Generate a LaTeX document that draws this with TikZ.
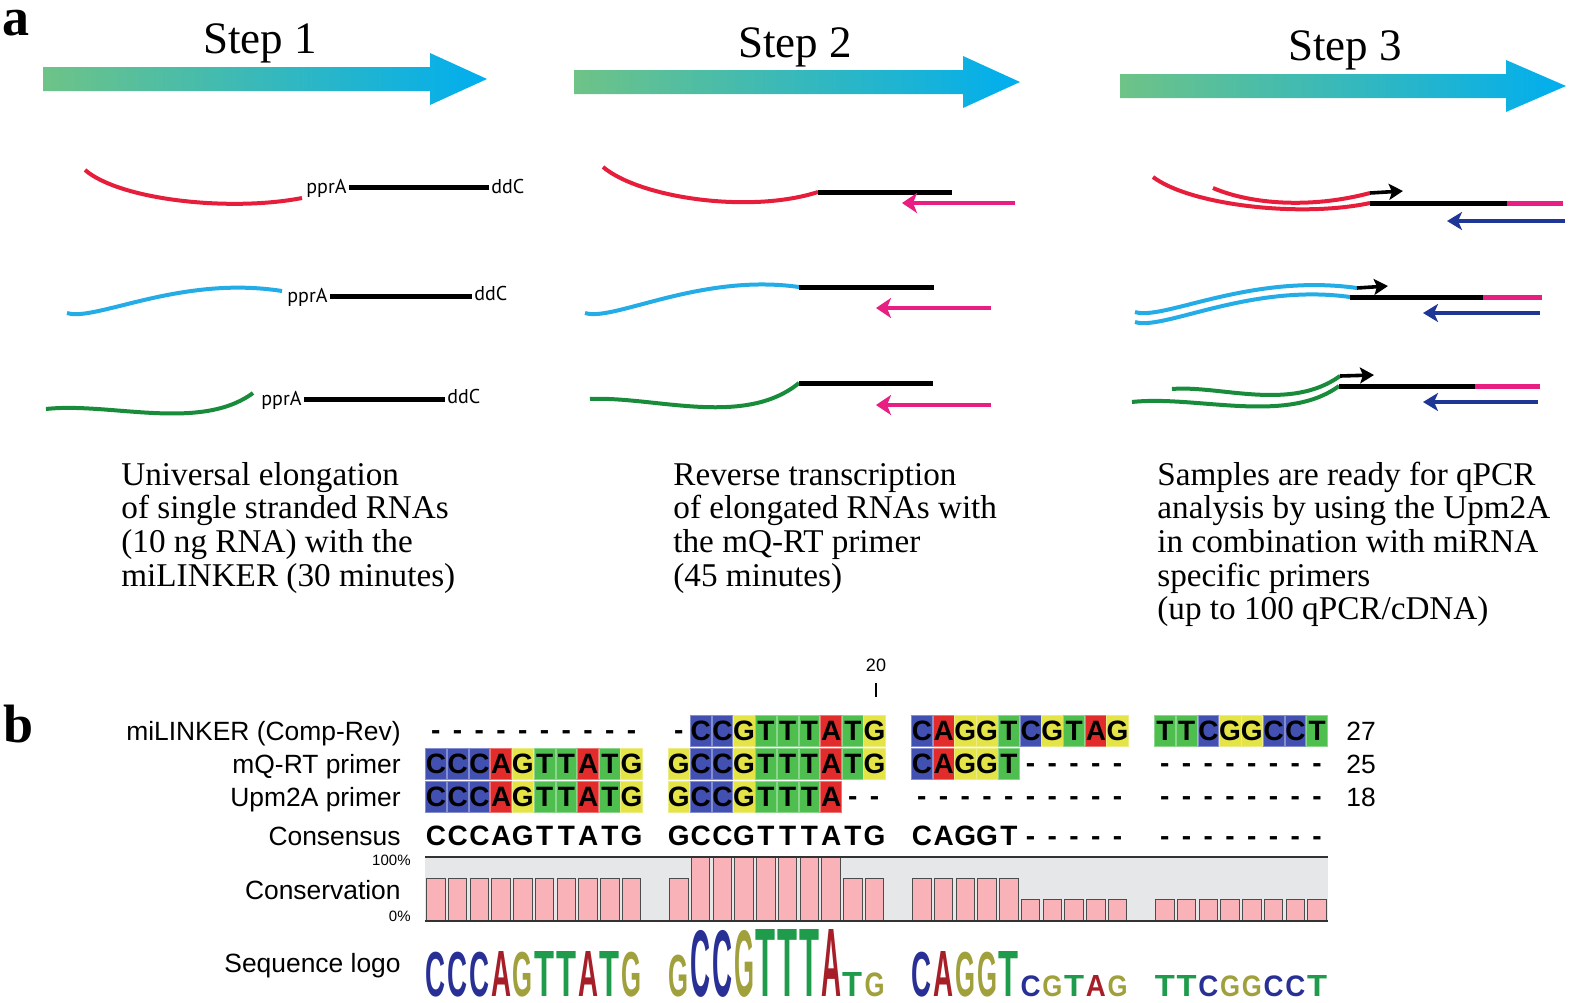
\documentclass[tikz,border=0pt]{standalone}
\usepackage{fontspec}
\setmainfont{Liberation Serif}
\setsansfont{Liberation Sans}
\newfontfamily\tagfont{PT Sans}
\usetikzlibrary{arrows.meta}

\definecolor{arrowgreen}{RGB}{110,195,135}
\definecolor{arrowmid}{RGB}{75,192,200}
\definecolor{arrowblue}{RGB}{0,174,239}
\definecolor{rnared}{RGB}{230,30,60}
\definecolor{rnablue}{RGB}{35,172,230}
\definecolor{rnagreen}{RGB}{25,140,60}
\definecolor{rtpink}{RGB}{233,30,130}
\definecolor{upmblue}{RGB}{30,55,150}
\definecolor{ntA}{RGB}{226,44,44}
\definecolor{ntC}{RGB}{66,80,178}
\definecolor{ntG}{RGB}{228,228,70}
\definecolor{ntT}{RGB}{78,190,78}
\definecolor{logoA}{RGB}{165,30,40}
\definecolor{logoC}{RGB}{40,48,150}
\definecolor{logoG}{RGB}{160,160,60}
\definecolor{logoT}{RGB}{30,155,75}
\definecolor{consbg}{RGB}{230,231,232}
\definecolor{barpink}{RGB}{249,178,184}

\tikzset{
  panel/.style={font=\fontsize{27}{27}\selectfont\bfseries, inner sep=0},
  steplbl/.style={font=\fontsize{22.5}{22.5}\selectfont, inner sep=0},
  desc/.style={font=\fontsize{16.6}{16.85}\selectfont, inner sep=0},
  tag/.style={font=\tagfont\fontsize{10}{10}\selectfont, inner sep=1.2pt},
  strand/.style={line width=2pt},
  linker/.style={line width=2.5pt},
  rtarrow/.style={line width=2pt, rtpink, -{Stealth[length=7.5pt,width=10pt,inset=2pt]}},
  upmarrow/.style={line width=2.2pt, upmblue, -{Stealth[length=7.5pt,width=9pt,inset=2pt]}},
  extarrow/.style={line width=1.8pt, -{Stealth[length=7pt,width=8pt,inset=1.5pt]}},
  lbl/.style={font=\sffamily\fontsize{13.2}{13.2}\selectfont, inner sep=0},
  nt/.style={fill=nt#1, draw=nt#1!65!white, line width=0.4pt, minimum width=10.4pt,
    minimum height=15.4pt, inner sep=0, font=\sffamily\bfseries\fontsize{14}{14}\selectfont},
  gapdash/.style={inner sep=0, anchor=base, font=\sffamily\bfseries\fontsize{14}{14}\selectfont},
  cons/.style={inner sep=0, anchor=base, font=\sffamily\bfseries\fontsize{14}{14}\selectfont},
  consbar/.style={fill=barpink, draw=black!70, line width=0.5pt},
  logo/.style={inner sep=0, anchor=base},
  pct/.style={font=\sffamily\fontsize{7.5}{7.5}\selectfont, inner sep=0, anchor=base east}
}

% big shaded arrow: left x, head x, tip x, centre y
\newcommand{\steparrow}[4]{%
  \shade[left color=arrowgreen, middle color=arrowmid, right color=arrowblue]
    (#1,#4-12) -- (#2,#4-12) -- (#2,#4-26) -- (#3,#4) -- (#2,#4+26) -- (#2,#4+12) -- (#1,#4+12) -- cycle;}
% x of alignment column (0..37)
\newcommand{\setcolx}[1]{\pgfmathsetmacro\xc{425+int(#1/10)*243+(mod(#1,10)+0.5)*21.75}}
\def\gapmark{-}
\newcommand{\alnrow}[3]{%
  \foreach \nt [count=\i from 0] in {#3} {
    \setcolx{\i}
    \ifx\nt\gapmark
      \node[gapdash] (#2-\i) at (\xc,#1+8) {-};
    \else
      \node[nt=\nt] (#2-\i) at (\xc,#1) {\nt};
    \fi
  }}

\begin{document}
\begin{tikzpicture}[x=0.5pt,y=-0.5pt]
\useasboundingbox (0,0) rectangle (1575,1002);

% panel a
\node[panel, anchor=base west] (pa) at (2,35) {a};
\steparrow{43}{430}{487}{79}
\steparrow{574}{963}{1020}{82}
\steparrow{1120}{1506}{1566}{86}
\node[steplbl, anchor=base] (st1) at (260,53) {Step 1};
\node[steplbl, anchor=base] (st2) at (795,57) {Step 2};
\node[steplbl, anchor=base] (st3) at (1345,60) {Step 3};

% Step 1
\draw[strand, rnared] (85,170) .. controls (120,200) and (230,212) .. (302,198);
\node[tag, anchor=base west] (pp1) at (303.6,193) {pprA};
\node[tag, anchor=base west] (dd1) at (488.6,193) {ddC};
\draw[linker] (pp1.east) -- (pp1.east -| dd1.west);
\draw[strand, rnablue] (67,313) .. controls (95,322) and (180,275) .. (282,291);
\node[tag, anchor=base west] (pp2) at (284.6,302) {pprA};
\node[tag, anchor=base west] (dd2) at (471.6,300) {ddC};
\draw[linker] (pp2.east) -- (pp2.east -| dd2.west);
\draw[strand, rnagreen] (46,409) .. controls (110,402) and (200,432) .. (253,393);
\node[tag, anchor=base west] (pp3) at (258.6,405) {pprA};
\node[tag, anchor=base west] (dd3) at (444.6,403) {ddC};
\draw[linker] (pp3.east) -- (pp3.east -| dd3.west);

% Step 2
\draw[strand, rnared] (603,167) .. controls (640,198) and (750,214) .. (818,192);
\draw[linker] (818,192) -- (952,192);
\draw[rtarrow] (1015,203) -- (902,203);
\draw[strand, rnablue] (585,313) .. controls (613,322) and (700,273) .. (799,287);
\draw[linker] (799,287) -- (934,287);
\draw[rtarrow] (991,308) -- (876,308);
\draw[strand, rnagreen] (590,399) .. controls (654,396) and (744,428) .. (799,383);
\draw[linker] (799,383) -- (933,383);
\draw[rtarrow] (991,405) -- (876,405);

% Step 3
\draw[strand, rnared] (1153,177) .. controls (1190,205) and (1300,218) .. (1370,203);
\draw[strand, rnared] (1213,188) .. controls (1250,204) and (1310,209) .. (1370,193);
\draw[extarrow] (1370,193) -- (1403,191);
\draw[linker] (1370,203) -- (1507,203);
\draw[linker, rtpink] (1507,203) -- (1563,203);
\draw[upmarrow] (1565,221) -- (1447,221);
\draw[strand, rnablue] (1135,312) .. controls (1163,321) and (1250,273) .. (1357,288);
\draw[strand, rnablue] (1135,322) .. controls (1163,331) and (1250,283) .. (1350,297);
\draw[extarrow] (1357,288) -- (1388,286);
\draw[linker] (1350,297) -- (1483,297);
\draw[linker, rtpink] (1483,297) -- (1542,297);
\draw[upmarrow] (1540,313) -- (1423,313);
\draw[strand, rnagreen] (1172,389) .. controls (1220,385) and (1290,412) .. (1340,376);
\draw[strand, rnagreen] (1132,402) .. controls (1196,395) and (1286,425) .. (1339,386);
\draw[extarrow] (1340,376) -- (1374,375);
\draw[linker] (1339,386) -- (1475,386);
\draw[linker, rtpink] (1475,386) -- (1540,386);
\draw[upmarrow] (1538,402) -- (1423,402);

% texts
\node[desc, anchor=base west] (tx1) at (121,485) {\begin{tabular}[t]{@{}l@{}}Universal elongation\\
  of single stranded RNAs\\ (10 ng RNA) with the\\ miLINKER (30 minutes)\end{tabular}};
\node[desc, anchor=base west] (tx2) at (673,485) {\begin{tabular}[t]{@{}l@{}}Reverse transcription\\
  of elongated RNAs with\\ the mQ-RT primer\\ (45 minutes)\end{tabular}};
\node[desc, anchor=base west] (tx3) at (1157,485) {\begin{tabular}[t]{@{}l@{}}Samples are ready for qPCR\\
  analysis by using the Upm2A\\ in combination with miRNA\\ specific primers\\ (up to 100 qPCR/cDNA)\end{tabular}};

% panel b
\node[panel, anchor=base west] (pb) at (3,742) {b};
\node[lbl, anchor=base east] (lnk) at (401,740) {miLINKER (Comp-Rev)};
\node[lbl, anchor=base east] (mq) at (401,773) {mQ-RT primer};
\node[lbl, anchor=base east] (upm) at (401,806) {Upm2A primer};
\node[lbl, anchor=base east] (cns) at (401,845) {Consensus};
\node[lbl, anchor=base east] (cnv) at (401,899) {Conservation};
\node[lbl, anchor=base east] (slg) at (401,972) {Sequence logo};
\node[lbl, anchor=base west] (n27) at (1346,740) {27};
\node[lbl, anchor=base west] (n25) at (1346,773) {25};
\node[lbl, anchor=base west] (n18) at (1346,806) {18};
\node[font=\sffamily\fontsize{9}{9}\selectfont, inner sep=0, anchor=base] (r20) at (876,671) {20};
\draw[line width=0.6pt] (876,683) -- (876,697);

\alnrow{731}{al}{-,-,-,-,-,-,-,-,-,-,-,C,C,G,T,T,T,A,T,G,C,A,G,G,T,C,G,T,A,G,T,T,C,G,G,C,C,T}
\alnrow{764}{bm}{C,C,C,A,G,T,T,A,T,G,G,C,C,G,T,T,T,A,T,G,C,A,G,G,T,-,-,-,-,-,-,-,-,-,-,-,-,-}
\alnrow{797}{cu}{C,C,C,A,G,T,T,A,T,G,G,C,C,G,T,T,T,A,-,-,-,-,-,-,-,-,-,-,-,-,-,-,-,-,-,-,-,-}
\foreach \nt [count=\i from 0] in {C,C,C,A,G,T,T,A,T,G,G,C,C,G,T,T,T,A,T,G,C,A,G,G,T,-,-,-,-,-,-,-,-,-,-,-,-,-} {
  \setcolx{\i}
  \node[cons] (cs-\i) at (\xc,845) {\nt};
}

% conservation
\fill[consbg] (425,857) rectangle (1328,921);
\foreach \h [count=\i from 0] in {2,2,2,2,2,2,2,2,2,2,2,3,3,3,3,3,3,3,2,2,2,2,2,2,2,1,1,1,1,1,1,1,1,1,1,1,1,1} {
  \setcolx{\i}
  \draw[consbar] (\xc-9.3,921) rectangle (\xc+9.3,{921-\h*64/3});
}
\draw[line width=0.8pt, black!80] (425,857) -- (1328,857);
\draw[line width=0.8pt, black!80] (425,921) -- (1328,921);
\node[pct] (p100) at (411,865) {100\%};
\node[pct] (p0) at (411,921) {0\%};

% sequence logo
\foreach \nt/\h [count=\i from 0] in {C/45,C/45,C/45,A/45,G/45,T/45,T/45,A/45,T/45,G/45,
  G/42,C/67,C/67,G/67,T/67,T/67,T/67,A/67,T/24,G/24,
  C/45,A/45,G/45,G/45,T/45,C/21,G/21,T/21,A/21,G/21,
  T/21,T/21,C/21,G/21,G/21,C/21,C/21,T/21} {
  \setcolx{\i}
  \pgfmathsetmacro\lh{\h*0.5}
  \node[logo, text=logo\nt] (lg-\i) at (\xc,996) {\resizebox*{10pt}{\lh pt}{\sffamily\bfseries\nt}};
}
\end{tikzpicture}
\end{document}
